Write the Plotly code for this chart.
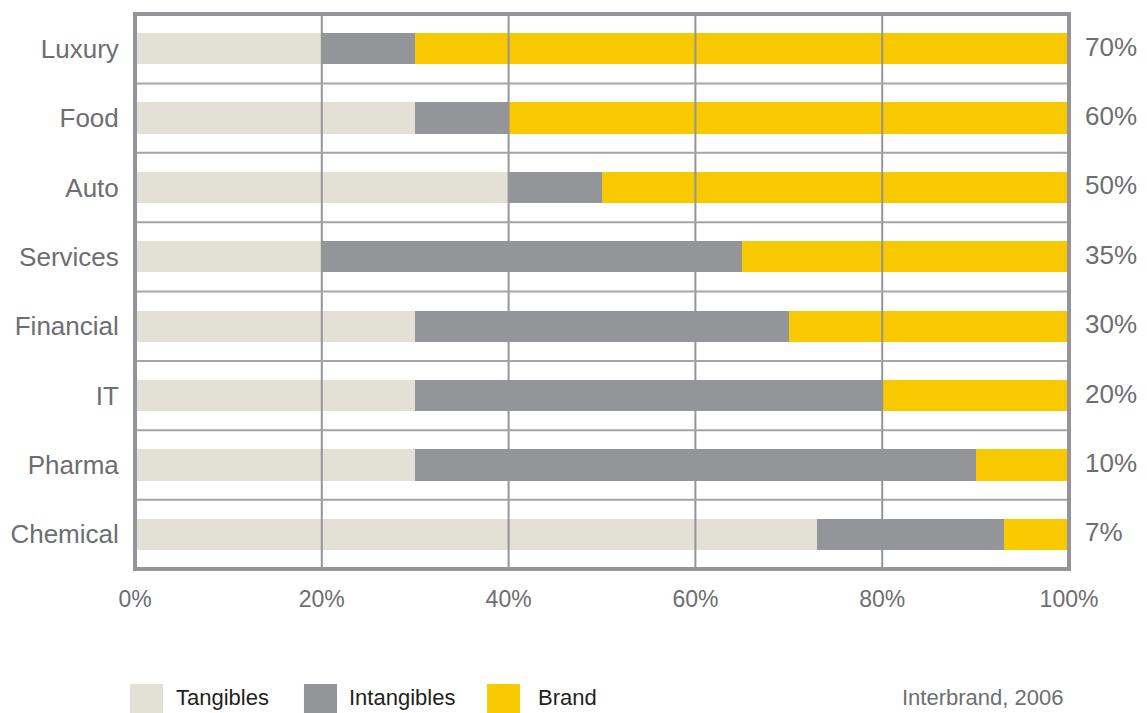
import plotly.graph_objects as go

# Share of business value by sector (percent)
categories = ["Luxury", "Food", "Auto", "Services", "Financial", "IT", "Pharma", "Chemical"]
tangibles = [20, 30, 40, 20, 30, 30, 30, 73]
intangibles = [10, 10, 10, 45, 40, 50, 60, 20]
brand = [70, 60, 50, 35, 30, 20, 10, 7]
brand_labels = ["70%", "60%", "50%", "35%", "30%", "20%", "10%", "7%"]
x_ticks = [0, 20, 40, 60, 80, 100]
x_tick_text = ["0%", "20%", "40%", "60%", "80%", "100%"]

series_names = ["Tangibles", "Intangibles", "Brand"]
series_values = [tangibles, intangibles, brand]
colors = ["#e3e1d5", "#939598", "#f9c900"]

TEXT = "#6d6e71"
FRAME = "#939598"
FONT = "Liberation Sans"

ypos = list(range(len(categories)))

fig = go.Figure()
for name, vals, col in zip(series_names, series_values, colors):
    fig.add_trace(go.Bar(
        y=ypos, x=vals, name=name, orientation="h",
        marker=dict(color=col, line=dict(width=0)),
        width=0.45, showlegend=False,
    ))

shapes = []
# vertical grid lines drawn over the bars
for v in x_ticks[1:-1]:
    shapes.append(dict(type="line", xref="x", yref="paper", x0=v, x1=v, y0=0, y1=1,
                       line=dict(color=FRAME, width=2), layer="above"))
# row separators
for i in range(len(categories) - 1):
    shapes.append(dict(type="line", xref="paper", yref="y", x0=0, x1=1, y0=i + 0.5, y1=i + 0.5,
                       line=dict(color="#a3a5a8", width=2), layer="above"))
# outer frame
shapes.append(dict(type="rect", xref="paper", yref="paper", x0=0, x1=1, y0=0, y1=1,
                   line=dict(color=FRAME, width=4), layer="above"))

# legend swatches
swatch_x = [(-0.0054, 0.030), (0.1809, 0.2163), (0.3769, 0.4122)]
for (x0, x1), col in zip(swatch_x, colors):
    shapes.append(dict(type="rect", xref="paper", yref="paper", x0=x0, x1=x1,
                       y0=-0.2595, y1=-0.2072, fillcolor=col, line=dict(width=0)))

annotations = []
for i, lab in enumerate(brand_labels):
    annotations.append(dict(x=1, xref="paper", y=i, yref="y", text=lab, showarrow=False,
                            xanchor="left", xshift=14, yshift=2,
                            font=dict(size=26, color=TEXT, family=FONT)))

legend_text_x = [0.0418, 0.227, 0.4293]
for tx, name in zip(legend_text_x, series_names):
    annotations.append(dict(x=tx, xref="paper", y=-0.2324, yref="paper", text=name,
                            showarrow=False, xanchor="left", yanchor="middle",
                            font=dict(size=22, color="#231f20", family=FONT)))

annotations.append(dict(x=0.9957, xref="paper", y=-0.2324, yref="paper", text="Interbrand, 2006",
                        showarrow=False, xanchor="right", yanchor="middle",
                        font=dict(size=22, color=TEXT, family=FONT)))

fig.update_layout(
    barmode="stack",
    width=1147, height=713,
    margin=dict(l=135, r=78, t=14, b=144),
    paper_bgcolor="white", plot_bgcolor="white",
    shapes=shapes, annotations=annotations,
    xaxis=dict(range=[0, 100], tickvals=x_ticks, ticktext=x_tick_text, showgrid=False,
               zeroline=False, showline=False, ticks="outside", ticklen=9, automargin=False,
               tickcolor="rgba(0,0,0,0)", tickfont=dict(size=23, color=TEXT, family=FONT)),
    yaxis=dict(range=[7.5, -0.5], tickvals=ypos, ticktext=categories, showgrid=False,
               zeroline=False, showline=False, ticks="outside", ticklen=10, automargin=False,
               tickcolor="rgba(0,0,0,0)", tickfont=dict(size=26, color=TEXT, family=FONT)),
    bargap=0.55,
)

fig.write_html("out.html")
